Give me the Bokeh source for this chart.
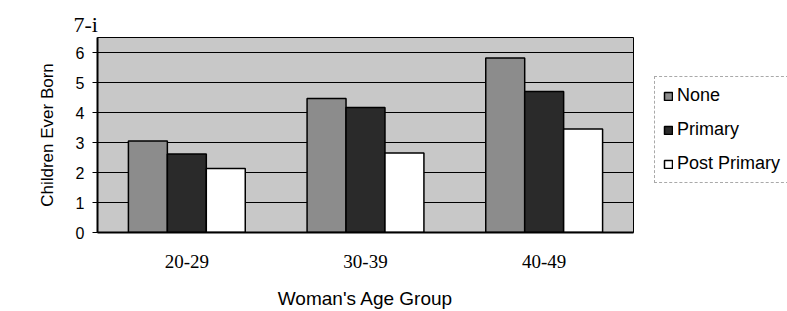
from bokeh.plotting import figure
from bokeh.models import Legend, LegendItem, ColumnDataSource
from bokeh.layouts import row
from bokeh.transform import dodge
from bokeh.embed import file_html
from bokeh.resources import INLINE

categories = ["20-29", "30-39", "40-49"]
none_vals = [3.05, 4.47, 5.82]
primary_vals = [2.62, 4.17, 4.70]
post_vals = [2.13, 2.65, 3.45]
series_names = ["None", "Primary", "Post Primary"]
y_ticks = [0, 1, 2, 3, 4, 5, 6]

src = ColumnDataSource(dict(cat=categories, none=none_vals, primary=primary_vals, post=post_vals))

styles = [dict(fill_color="#8c8c8c", line_color="black", line_width=1.5),
          dict(fill_color="#2a2a2a", line_color="black", line_width=1.5),
          dict(fill_color="white", line_color="black", line_width=1.5)]

p = figure(x_range=categories, y_range=(0, 6.5), width=654, height=311,
           output_backend="svg", toolbar_location=None,
           min_border_left=97, min_border_right=21, min_border_top=37, min_border_bottom=79)

p.background_fill_color = "#c8c8c8"
p.border_fill_color = "white"
p.outline_line_color = "black"
p.outline_line_width = 1

bw = 0.218
p.vbar(x=dodge("cat", -bw, range=p.x_range), top="none", width=bw, source=src, **styles[0])
p.vbar(x=dodge("cat", 0, range=p.x_range), top="primary", width=bw, source=src, **styles[1])
p.vbar(x=dodge("cat", bw, range=p.x_range), top="post", width=bw, source=src, **styles[2])

p.xgrid.grid_line_color = None
p.ygrid.grid_line_color = "black"
p.ygrid.grid_line_width = 1
p.ygrid.ticker = y_ticks
p.yaxis.ticker = y_ticks

p.yaxis.axis_line_color = "black"
p.yaxis.axis_line_width = 2
p.yaxis.major_tick_out = 5
p.yaxis.major_tick_in = 0
p.yaxis.minor_tick_line_color = None
p.yaxis.major_label_standoff = 8
p.yaxis.major_label_text_font = "Liberation Sans"
p.yaxis.major_label_text_font_size = "16px"
p.yaxis.major_label_text_color = "black"
p.yaxis.axis_label = "Children Ever Born"
p.yaxis.axis_label_text_font = "Liberation Sans"
p.yaxis.axis_label_text_font_style = "normal"
p.yaxis.axis_label_text_font_size = "17px"
p.yaxis.axis_label_text_color = "black"
p.yaxis.axis_label_standoff = 16

p.xaxis.axis_line_color = "black"
p.xaxis.axis_line_width = 2
p.xaxis.major_tick_line_color = None
p.xaxis.major_label_standoff = 16
p.xaxis.major_label_text_font = "Liberation Serif"
p.xaxis.major_label_text_font_size = "19px"
p.xaxis.major_label_text_color = "black"
p.xaxis.axis_label = "Woman's Age Group"
p.xaxis.axis_label_text_font = "Liberation Sans"
p.xaxis.axis_label_text_font_style = "normal"
p.xaxis.axis_label_text_font_size = "19px"
p.xaxis.axis_label_text_color = "black"
p.xaxis.axis_label_standoff = 17

p.title.text = "7-i"
p.title.align = "left"
p.title.offset = -24
p.title.standoff = 2
p.title.text_font = "Liberation Serif"
p.title.text_font_style = "normal"
p.title.text_font_size = "22px"
p.title.text_color = "black"

# legend panel
q = figure(width=133, height=311, output_backend="svg", toolbar_location=None,
           x_range=(0, 1), y_range=(0, 1), x_axis_location=None, y_axis_location=None,
           min_border=0, min_border_left=0, min_border_right=0, min_border_top=0, min_border_bottom=0)
q.outline_line_color = None
q.background_fill_color = "white"
q.grid.grid_line_color = None
# swatches with NaN extents draw nothing; they only feed the legend glyphs
nan = float("nan")
swatch = ColumnDataSource(dict(x=[0.5], bottom=[nan], top=[nan]))
leg_r = [q.vbar(x="x", bottom="bottom", top="top", width=0.1, source=swatch, **s) for s in styles]

legend = Legend(items=[LegendItem(label=n, renderers=[r]) for n, r in zip(series_names, leg_r)],
                location=(0, 49))
legend.border_line_color = "#555555"
legend.border_line_dash = "6 4"
legend.border_line_width = 1
legend.background_fill_color = "white"
legend.background_fill_alpha = 1
legend.label_text_font = "Liberation Sans"
legend.label_text_font_size = "18px"
legend.label_text_color = "black"
legend.glyph_width = 10
legend.glyph_height = 10
legend.label_height = 20
legend.spacing = 13
legend.padding = 8
legend.margin = 0
legend.label_standoff = 4
q.add_layout(legend, "center")

layout = row(p, q)
open("out.html", "w").write(file_html(layout, INLINE))
